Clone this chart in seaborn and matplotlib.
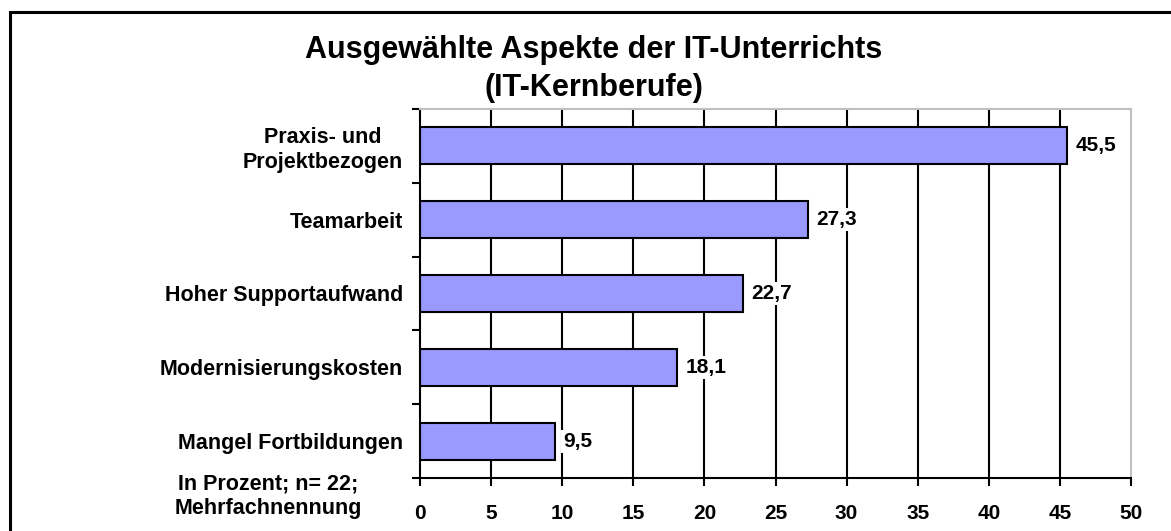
import numpy as np
import pandas as pd
import seaborn as sns
import matplotlib.pyplot as plt
from matplotlib.patches import Rectangle

kategorien = ["Praxis- und\nProjektbezogen", "Teamarbeit", "Hoher Supportaufwand",
              "Modernisierungskosten", "Mangel Fortbildungen"]
werte = [45.5, 27.3, 22.7, 18.1, 9.5]
x_ticks = [0, 5, 10, 15, 20, 25, 30, 35, 40, 45, 50]

df = pd.DataFrame({"aspekt": kategorien, "prozent": werte})

sns.set_style("white")
plt.rcParams["font.family"] = ["Liberation Sans", "DejaVu Sans"]
plt.rcParams["font.weight"] = "bold"
plt.rcParams["text.color"] = "black"
plt.rcParams["xtick.color"] = "black"
plt.rcParams["ytick.color"] = "black"

fig = plt.figure(figsize=(11.71, 5.31), dpi=100)
ax = fig.add_axes([420 / 1171, 53 / 531, 711 / 1171, 369 / 531])

sns.barplot(data=df, x="prozent", y="aspekt", orient="h", width=0.5,
            color="#9999FF", saturation=1, edgecolor="black", linewidth=1.5, ax=ax)

labels = [f"{v:.1f}".replace(".", ",") for v in werte]
texte = ax.bar_label(ax.containers[0], labels=labels, padding=6, fontsize=15,
                     fontweight="bold", color="black")
for t in texte:
    t.set_bbox(dict(facecolor="white", edgecolor="none", pad=1.5))

ax.set_xlim(0, 50)
ax.set_ylim(4.5, -0.5)
ax.set_xticks(x_ticks)
ax.set_xticklabels([str(t) for t in x_ticks], fontsize=15, fontweight="bold")
ax.set_yticks(np.arange(-0.5, 5, 1))
ax.set_yticklabels([])
ax.set_yticks(range(len(kategorien)), minor=True)
ax.set_yticklabels(kategorien, minor=True, fontsize=15.5, fontweight="bold",
                   multialignment="center")
ax.tick_params(axis="y", which="major", direction="out", length=6, width=1.5, color="black", left=True)
ax.tick_params(axis="y", which="minor", length=0, pad=12)
ax.tick_params(axis="x", direction="out", length=6, width=1.5, color="black", pad=13, bottom=True)
ax.set_xlabel("")
ax.set_ylabel("")

ax.set_axisbelow(True)
ax.xaxis.grid(True, color="black", linewidth=1.5)
ax.get_xgridlines()[-1].set_visible(False)
ax.get_xgridlines()[0].set_visible(False)

for side in ["left", "bottom"]:
    ax.spines[side].set_color("black")
    ax.spines[side].set_linewidth(1.5)
for side in ["top", "right"]:
    ax.spines[side].set_color("#c0c0c0")
    ax.spines[side].set_linewidth(1.5)

fig.text(594 / 1171, 1 - 35 / 531, "Ausgewählte Aspekte der IT-Unterrichts\n(IT-Kernberufe)",
         ha="center", va="top", fontsize=22, fontweight="bold", multialignment="center",
         linespacing=1.35)
fig.text(268 / 1171, 1 - 496 / 531, "In Prozent; n= 22;\nMehrfachnennung",
         ha="center", va="center", fontsize=15.5, fontweight="bold", multialignment="center")

fig.patches.append(Rectangle((10 / 1171, -0.2), 1.5, 1.2 - 12 / 531, transform=fig.transFigure,
                             fill=False, edgecolor="black", linewidth=2.2))

fig.savefig("out.png", dpi=100, facecolor="white")
